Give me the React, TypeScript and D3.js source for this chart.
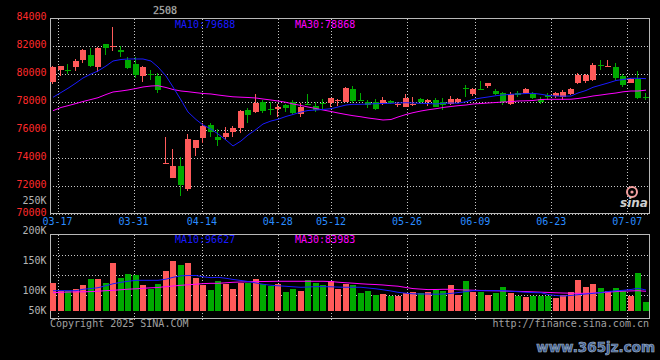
import React from 'react';
import * as d3 from 'd3';

// ---------- data ----------
const tickDates = ['03-17', '03-31', '04-14', '04-28', '05-12', '05-26', '06-09', '06-23', '07-07'];
const tickIndex = [1, 11, 20, 30, 37, 47, 56, 66, 76];
const priceTicks = [84000, 82000, 80000, 78000, 76000, 74000, 72000, 70000];
const priceGrid = [82000, 80000, 78000, 76000, 74000, 72000];
const volTicks = [250000, 200000, 150000, 100000, 50000];
const volTickLabels = ['250K', '200K', '150K', '100K', '50K'];

const openP = [79430, 80310, 80340, 80540, 81020, 81380, 80540, 82130, 81970, 81740,
  81020, 80740, 79880, 80000, 79880, 73620, 72610, 73470, 71810, 74760,
  75470, 76380, 75520, 75500, 75860, 76140, 77450, 77310, 78040, 77500,
  77520, 77810, 78020, 77160, 77880, 77740, 77930, 77970, 78140, 78000,
  78950, 78190, 78020, 78020, 77970, 78070, 77860, 77690, 77840, 78240,
  78010, 78160, 78000, 77860, 78000, 79040, 78610, 78950, 79160, 78810,
  78660, 77880, 78640, 78640, 78570, 78270, 78520, 78430, 78400, 78570,
  79380, 79490, 79590, 80660, 80540, 80520, 79880, 79410, 79660, 78400];
const closeP = [80540, 80590, 80270, 80970, 81740, 80610, 81900, 81910, 82040, 81570,
  80450, 79950, 80520, 79950, 78880, 73670, 73470, 72090, 75380, 75310,
  76330, 75900, 75340, 75790, 76190, 77400, 77090, 77970, 77390, 77450,
  77690, 77590, 77210, 77690, 77830, 77450, 77880, 78310, 78190, 79040,
  78090, 78140, 77840, 77540, 78160, 77930, 77900, 78330, 77880, 77990,
  78160, 77660, 77810, 78240, 78240, 78970, 78950, 78880, 79380, 78590,
  78000, 78560, 78520, 78950, 78310, 77990, 78380, 78660, 78740, 78950,
  79950, 79950, 80660, 80560, 80590, 79710, 79240, 79640, 78340, 78330];
const highP = [80610, 80620, 80740, 81090, 81840, 81860, 81950, 82160, 83400, 82020,
  81260, 81200, 80560, 80310, 80090, 75540, 74660, 74110, 75740, 75340,
  76500, 76540, 76090, 76210, 76330, 77450, 77570, 78590, 78160, 78040,
  77910, 77880, 78160, 77930, 78590, 78000, 78210, 78340, 78260, 79110,
  79160, 78690, 78160, 78240, 78360, 78130, 78040, 78590, 78360, 78310,
  78260, 78310, 78330, 78470, 78330, 79240, 78990, 79520, 79400, 78950,
  78710, 78740, 78810, 79040, 78710, 78400, 78640, 78740, 78880, 79040,
  80070, 79990, 80790, 81020, 81020, 80790, 80020, 79760, 80260, 78640];
const lowP = [79310, 79860, 80020, 80270, 80830, 80520, 80200, 81380, 81660, 81200,
  80380, 79770, 79470, 79590, 78690, 73600, 72600, 71330, 71690, 74190,
  75070, 75540, 74880, 75310, 75540, 75830, 76540, 77270, 77210, 77090,
  76970, 77330, 77160, 76970, 77800, 77330, 77450, 77690, 77740, 77990,
  77930, 78090, 77570, 77450, 77810, 77880, 77690, 77640, 77710, 77880,
  77740, 77640, 77450, 77810, 77930, 78400, 78470, 78860, 79020, 78520,
  77810, 77810, 78400, 78590, 78240, 77880, 78160, 78290, 78160, 78520,
  79310, 79400, 79520, 80310, 80540, 79590, 79110, 79360, 78240, 78160];
const volume = [113700, 100400, 100400, 103200, 109900, 119900, 119900, 113700, 147100, 122100,
  128200, 126600, 109900, 103700, 111600, 133300, 149900, 143800, 147100, 122100,
  109900, 101500, 116600, 111100, 103200, 113700, 113700, 119900, 111100, 108700,
  111600, 98700, 103200, 100400, 118200, 113200, 109900, 116100, 103200, 111600,
  109900, 96500, 99900, 93200, 94900, 91500, 91500, 97000, 98200, 96500,
  98200, 101500, 99900, 109900, 93200, 116600, 98200, 98200, 93200, 96500,
  106600, 96500, 91500, 89900, 91500, 91500, 91500, 88700, 93200, 98200,
  118200, 106600, 111600, 105400, 99900, 104900, 99900, 91500, 129900, 81500];
const ma10 = [78357, 78700, 79000, 79379, 79736, 80022, 80236, 80593, 80950, 81057,
  81093, 81093, 81093, 80950, 80522, 79879, 79093, 78164, 77307, 76771,
  76379, 76093, 75736, 75307, 74879, 75236, 75664, 76057, 76450, 76664,
  76786, 76990, 77129, 77307, 77414, 77450, 77486, 77543, 77664, 77807,
  77857, 77857, 77879, 77900, 77914, 77929, 77950, 77972, 77950, 77929,
  77914, 77879, 77929, 77950, 77929, 78043, 78200, 78307, 78379, 78472,
  78522, 78572, 78593, 78629, 78643, 78572, 78486, 78450, 78436, 78450,
  78664, 78843, 79072, 79236, 79379, 79557, 79629, 79714, 79714, 79688];
const ma30 = [77400, 77629, 77757, 77914, 78057, 78200, 78329, 78557, 78736, 78807,
  78879, 78986, 79093, 79164, 79186, 79057, 78914, 78807, 78757, 78686,
  78629, 78593, 78522, 78450, 78393, 78365, 78343, 78307, 78236, 78164,
  78093, 78000, 77879, 77772, 77664, 77557, 77450, 77343, 77236, 77129,
  77043, 76964, 76879, 76807, 76736, 76771, 76950, 77129, 77257, 77379,
  77464, 77543, 77629, 77700, 77757, 77807, 77879, 77914, 77950, 77986,
  78022, 78043, 78093, 78107, 78129, 78200, 78214, 78214, 78214, 78221,
  78272, 78357, 78450, 78522, 78593, 78664, 78750, 78807, 78807, 78868];
const vma10 = [100400, 100400, 100400, 100400, 102700, 104000, 105400, 108700, 111900, 114400,
  116100, 117700, 117700, 117700, 117700, 119600, 122700, 125200, 125700, 125700,
  123600, 122100, 122700, 121100, 119100, 117400, 115700, 113200, 111100, 109400,
  108600, 107700, 106900, 106100, 106600, 107100, 107100, 106900, 106400, 106100,
  106100, 106100, 104900, 103500, 101900, 99900, 97700, 96200, 95200, 94900,
  94900, 94500, 94900, 95900, 97200, 98900, 100400, 100400, 100400, 100400,
  100400, 99500, 98700, 97700, 97200, 97000, 94000, 92400, 91500, 92400,
  93700, 94900, 95900, 97400, 99000, 100200, 101000, 102400, 104400, 101500];
const vma30 = [97000, 97700, 98200, 98400, 98500, 98900, 99500, 100400, 101000, 102000,
  102900, 103500, 104400, 105200, 105700, 107200, 108200, 109400, 110200, 111200,
  112200, 112700, 112700, 113600, 114400, 114900, 115200, 115600, 115700, 115900,
  116100, 116100, 116100, 116100, 116100, 116100, 116100, 115600, 114600, 113600,
  112900, 111900, 111200, 110600, 109900, 108700, 107900, 105700, 103900, 103000,
  102200, 102400, 102700, 102700, 102000, 101500, 101200, 100700, 100400, 100200,
  99900, 99500, 99200, 98900, 98400, 97900, 97500, 96900, 96500, 96200,
  96000, 96000, 96500, 97000, 97900, 98900, 99700, 100000, 100400, 99400];

const contract = '2508';
const maLabel10 = 'MA10:79688';
const maLabel30 = 'MA30:78868';
const vmaLabel10 = 'MA10:96627';
const vmaLabel30 = 'MA30:83983';

// ---------- styles ----------
const RED = '#ff5a5a';
const GREEN = '#00aa00';
const BLUE = '#1a1aff';
const MAGENTA = '#ff00ff';
const FRAME = '#b8b8b8';
const GRID = '#c8c8c8';
const MONO = "'DejaVu Sans Mono', 'Liberation Mono', monospace";

export default function App() {
  const W = 660, H = 360;
  const n = openP.length;
  const L = 50, R = 650;
  const y = d3.scaleLinear().domain([70000, 84000]).range([214.3, 18.3]);
  const yv = d3.scaleLinear().domain([67000, 200000]).range([310.7, 231]);
  const xb = d3.scaleBand<number>().domain(d3.range(n)).range([L, R]);
  const xg = d3.scaleLinear().domain([0, n - 1]).range([L, R]);
  const bx = (i: number) => Math.round(xb(i) as number);
  const volBase = 311;

  const lineP = d3.line<number>().x((_, i) => bx(i) + 3).y(v => y(v));
  const lineV = d3.line<number>().x((_, i) => bx(i) + 3).y(v => yv(v));

  const px = (v: number) => Math.round(v) + 0.5;

  return (
    <svg width={W} height={H} style={{ position: 'absolute', left: 0, top: 0, background: '#000' }}
      fontFamily={MONO} fontSize={10}>
      <rect x={0} y={0} width={W} height={H} fill="#000" />

      {/* ---- price panel grid ---- */}
      {priceGrid.map(p => (
        <line key={'hg' + p} x1={L} x2={R} y1={px(y(p))} y2={px(y(p))} stroke={GRID} strokeDasharray="1 2" />
      ))}
      {tickIndex.map((k, j) => (
        <g key={'vg' + j}>
          <line x1={px(xg(k))} x2={px(xg(k))} y1={19} y2={214} stroke={GRID} strokeDasharray="1 2" />
          <line x1={px(xg(k))} x2={px(xg(k))} y1={235} y2={321} stroke={GRID} strokeDasharray="1 2" />
        </g>
      ))}
      {/* volume panel horizontal grid */}
      {[21, 41, 61].map(o => (
        <line key={'vh' + o} x1={L} x2={R} y1={234.5 + o} y2={234.5 + o} stroke={GRID} strokeDasharray="1 2" />
      ))}

      {/* ---- frames ---- */}
      <line x1={L} x2={R} y1={18.5} y2={18.5} stroke={FRAME} />
      <line x1={50.5} x2={50.5} y1={18} y2={214} stroke={FRAME} />
      <line x1={649.5} x2={649.5} y1={18} y2={214} stroke={FRAME} />
      <line x1={L} x2={R} y1={213.5} y2={213.5} stroke={FRAME} />
      <line x1={L} x2={R} y1={214.5} y2={214.5} stroke={FRAME} strokeDasharray="1 2" />

      <line x1={L} x2={R} y1={234.5} y2={234.5} stroke={FRAME} />
      <line x1={L} x2={R} y1={318.5} y2={318.5} stroke={FRAME} />
      <line x1={50.5} x2={50.5} y1={234} y2={319} stroke={FRAME} />
      <line x1={649.5} x2={649.5} y1={234} y2={319} stroke={FRAME} />

      {/* ---- candles ---- */}
      {openP.map((o, i) => {
        const c = closeP[i];
        const up = c >= o;
        const col = up ? RED : GREEN;
        const x = bx(i);
        const top = Math.round(y(Math.max(o, c)));
        const bot = Math.round(y(Math.min(o, c)));
        const hi = Math.round(y(highP[i]));
        const lo = Math.round(y(lowP[i]));
        return (
          <g key={'c' + i} shapeRendering="crispEdges">
            <rect x={x + 2} y={hi} width={1} height={Math.max(1, lo - hi)} fill={col} />
            <rect x={x} y={top} width={6} height={Math.max(1, bot - top)} fill={col} />
          </g>
        );
      })}

      {/* ---- price MAs ---- */}
      <path d={lineP(ma30) || ''} fill="none" stroke={MAGENTA} strokeWidth={1} />
      <path d={lineP(ma10) || ''} fill="none" stroke={BLUE} strokeWidth={1} />

      {/* ---- volume bars ---- */}
      {volume.map((v, i) => {
        const up = closeP[i] >= openP[i];
        const top = Math.round(yv(v));
        return (
          <rect key={'v' + i} x={bx(i)} y={top} width={6} height={volBase - top}
            fill={up ? RED : GREEN} shapeRendering="crispEdges" />
        );
      })}
      <path d={lineV(vma30) || ''} fill="none" stroke={MAGENTA} strokeWidth={1} />
      <path d={lineV(vma10) || ''} fill="none" stroke={BLUE} strokeWidth={1} />

      {/* ---- axis labels ---- */}
      {priceTicks.map(p => (
        <text key={'pt' + p} x={46.5} y={y(p) + 1.8} textAnchor="end" fill="#ff2a2a">{p}</text>
      ))}
      {volTicks.map((v, j) => (
        <text key={'vt' + v} x={46.5} y={Math.min(yv(v), 311) + 3.4} textAnchor="end" fill="#b4b4b4">{volTickLabels[j]}</text>
      ))}
      {tickIndex.map((k, j) => (
        <text key={'dt' + j} x={xg(k)} y={225} textAnchor="middle" fill="#2a8cff">{tickDates[j]}</text>
      ))}

      {/* ---- titles ---- */}
      <text x={165} y={13.5} textAnchor="middle" fill="#e4e4e4" stroke="#555" strokeWidth={0.3}>{contract}</text>
      <text x={175} y={27.5} fill={BLUE}>{maLabel10}</text>
      <text x={295} y={27.5} fill={MAGENTA}>{maLabel30}</text>
      <text x={175} y={242.5} fill={BLUE}>{vmaLabel10}</text>
      <text x={295} y={242.5} fill={MAGENTA}>{vmaLabel30}</text>

      <text x={50} y={327} fill="#a0a0a0">Copyright 2025 SINA.COM</text>
      <text x={649} y={327} textAnchor="end" fill="#a0a0a0">http://finance.sina.com.cn</text>

      {/* sina logo */}
      <circle cx={632} cy={192} r={5} fill="none" stroke="#f4a0a0" strokeWidth={2} />
      <circle cx={632} cy={192} r={1.6} fill="#f4a0a0" />
      <text x={620} y={207} fontFamily="'DejaVu Sans', sans-serif" fontStyle="italic" fontWeight="bold"
        fontSize={12} fill="#cfcfcf">sina</text>

      {/* site watermark */}
      <text x={655} y={352} textAnchor="end" fontFamily="'DejaVu Sans', sans-serif" fontWeight="bold" fontSize={13.5}
        fill="#3d5f95" stroke="#a8b8c8" strokeWidth={0.6}>www.365jz.com</text>
    </svg>
  );
}
